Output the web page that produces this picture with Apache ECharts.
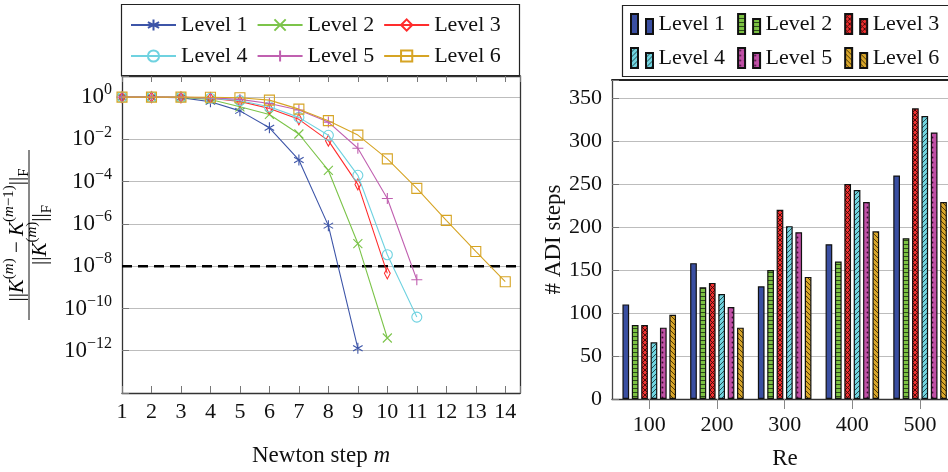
<!DOCTYPE html>
<html><head><meta charset="utf-8">
<script src="https://cdn.jsdelivr.net/npm/echarts@6/dist/echarts.min.js"></script>
<style>html,body{margin:0;padding:0;background:#fff}#c{width:948px;height:472px}</style>
</head><body><div id="c"></div>
<script>
const FONT = '"Liberation Serif", "Times New Roman", serif';

// ---------- Left chart: relative change per Newton step ----------
const levelNames = ['Level 1', 'Level 2', 'Level 3', 'Level 4', 'Level 5', 'Level 6'];
const newtonSteps = [1, 2, 3, 4, 5, 6, 7, 8, 9, 10, 11, 12, 13, 14];
const resLevel1 = [1, 0.99, 0.95, 0.6, 0.224, 0.0355, 1.07e-3, 8.3e-7, 1.3e-12];
const resLevel2 = [1, 0.99, 0.97, 0.78, 0.35, 0.152, 0.018, 3.4e-4, 1.18e-7, 4e-12];
const resLevel3 = [1, 1, 0.98, 0.9, 0.63, 0.29, 0.089, 8.7e-3, 7.4e-5, 4.6e-9];
const resLevel4 = [1, 1, 0.98, 0.88, 0.68, 0.35, 0.11, 0.0156, 2.0e-4, 3.5e-8, 3.9e-11];
const resLevel5 = [1, 1, 0.99, 0.93, 0.78, 0.5, 0.245, 0.066, 3.8e-3, 1.6e-5, 2.3e-9];
const resLevel6 = [1, 1, 1, 0.98, 0.93, 0.72, 0.27, 0.077, 0.016, 1.2e-3, 4.8e-5, 1.48e-6, 5e-8, 1.85e-9];
const tolerance = 1e-8;
const toleranceSpan = [1, 14.5];

// ---------- Right chart: ADI steps per Reynolds number ----------
const reValues = [100, 200, 300, 400, 500];
const adiLevel1 = [110, 158, 131, 180, 260];
const adiLevel2 = [86, 130, 150, 160, 187];
const adiLevel3 = [86, 135, 220, 250, 338];
const adiLevel4 = [66, 122, 201, 243, 329];
const adiLevel5 = [83, 107, 194, 229, 310];
const adiLevel6 = [98, 83, 142, 195, 229];

const resData = [resLevel1, resLevel2, resLevel3, resLevel4, resLevel5, resLevel6];
const adiData = [adiLevel1, adiLevel2, adiLevel3, adiLevel4, adiLevel5, adiLevel6];

const lineColors = ['#3d55a8', '#7cc44a', '#ff2d2d', '#6fd2e0', '#c060b0', '#d6a424'];
const symbols = [
  'path://M10,0L10,20M1.34,5L18.66,15M1.34,15L18.66,5',
  'path://M0,0L10,10M0,10L10,0',
  'path://M4,0L8,5.5L4,11L0,5.5Z',
  'circle',
  'path://M5,0L5,10M0,5L10,5',
  'rect'
];
const symbolSizes = [11, 9, [8, 11], 10, 11, 10];

function pattern(bg, fg, kind, s) {
  const c = document.createElement('canvas');
  c.width = s; c.height = s;
  const g = c.getContext('2d');
  g.fillStyle = bg; g.fillRect(0, 0, s, s);
  g.strokeStyle = fg; g.fillStyle = fg; g.lineWidth = 0.9;
  if (kind === 'h') { g.fillRect(0, 0, s, 1); }
  if (kind === 'ne' || kind === 'x') {
    g.beginPath();
    for (const k of [-s, 0, s]) { g.moveTo(k, s); g.lineTo(k + s, 0); }
    g.stroke();
  }
  if (kind === 'nw' || kind === 'x') {
    g.beginPath();
    for (const k of [-s, 0, s]) { g.moveTo(k, 0); g.lineTo(k + s, s); }
    g.stroke();
  }
  if (kind === 'dots') {
    g.beginPath(); g.arc(s / 2, s / 2, 0.9, 0, Math.PI * 2); g.fill();
  }
  return { image: c, repeat: 'repeat' };
}
const barFills = [
  '#3a4fa2',
  pattern('#7cc242', '#2c4a1a', 'h', 4),
  pattern('#f03030', '#3a0808', 'x', 5),
  pattern('#70d4e0', '#1e3c40', 'ne', 5),
  pattern('#c050a6', '#3a0c30', 'dots', 5),
  pattern('#d9a62a', '#3c2c06', 'nw', 5)
];
const barNames = ['b1', 'b2', 'b3', 'b4', 'b5', 'b6'];

const lineSeries = resData.map((arr, i) => ({
  name: levelNames[i],
  type: 'line',
  xAxisIndex: 0, yAxisIndex: 0,
  data: arr.map((v, j) => [newtonSteps[j], v]),
  symbol: symbols[i],
  symbolSize: symbolSizes[i],
  symbolKeepAspect: true,
  lineStyle: { color: lineColors[i], width: 1.1 },
  itemStyle: { color: 'transparent', borderColor: lineColors[i], borderWidth: 1.1 },
  z: 3 + i
}));
const toleranceSeries = {
  name: 'tol', type: 'line', xAxisIndex: 0, yAxisIndex: 0,
  data: toleranceSpan.map(x => [x, tolerance]),
  symbol: 'none', silent: true, z: 2,
  lineStyle: { color: '#000', type: [10, 6], width: 2.6 }
};

const barSeries = adiData.map((arr, i) => ({
  name: barNames[i],
  type: 'bar',
  xAxisIndex: 2, yAxisIndex: 2,
  data: arr.map((v, j) => [reValues[j], v]),
  barWidth: 6.7,
  barGap: '40%',
  itemStyle: { color: barFills[i], borderColor: '#111', borderWidth: 1.2 }
}));

const supRich = {
  b: { fontSize: 23, lineHeight: 30, fontFamily: FONT, color: '#111' },
  s: { fontSize: 16, lineHeight: 16, verticalAlign: 'top', fontFamily: FONT, color: '#111' }
};

const fracRich = {
  n: { fontSize: 21, lineHeight: 30, fontFamily: FONT, color: '#111' },
  i: { fontSize: 21, lineHeight: 30, fontFamily: FONT, fontStyle: 'italic', color: '#111' },
  s: { fontSize: 15, lineHeight: 15, verticalAlign: 'top', fontFamily: FONT, color: '#111' },
  si: { fontSize: 15, lineHeight: 15, verticalAlign: 'top', fontFamily: FONT, fontStyle: 'italic', color: '#111' },
  u: { fontSize: 15, lineHeight: 15, verticalAlign: 'bottom', fontFamily: FONT, color: '#111' }
};

const option = {
  animation: false,
  textStyle: { fontFamily: FONT },
  graphic: [
    { type: 'rect', shape: { x: 121.5, y: 4.5, width: 398, height: 71 }, style: { fill: 'none', stroke: '#222', lineWidth: 1.2 }, silent: true },
    { type: 'rect', shape: { x: 622.5, y: 5.5, width: 340, height: 71 }, style: { fill: 'none', stroke: '#222', lineWidth: 1.2 }, silent: true },
    {
      type: 'group', x: 29, y: 235, rotation: Math.PI / 2, silent: true,
      children: [
        { type: 'text', x: 0, y: -12, style: { text: '{n|||}{i|K}{s|(}{si|m}{s|)}{n| − }{i|K}{s|(}{si|m}{s|−1)}{n|||}{u|F}', rich: fracRich, align: 'center', verticalAlign: 'middle' } },
        { type: 'line', shape: { x1: -85, y1: 0, x2: 85, y2: 0 }, style: { stroke: '#111', lineWidth: 1 } },
        { type: 'text', x: 0, y: 11, style: { text: '{n|||}{i|K}{s|(}{si|m}{s|)}{n|||}{u|F}', rich: fracRich, align: 'center', verticalAlign: 'middle' } }
      ]
    }
  ],
  grid: [
    { left: 122, top: 76, width: 398, height: 317, outerBoundsMode: 'none', containLabel: false },
    { left: 612, top: 80, width: 346, height: 319, outerBoundsMode: 'none', containLabel: false }
  ],
  legend: [
    {
      data: levelNames, left: 130, top: 14, width: 390, padding: 0,
      itemWidth: 45, itemHeight: 14, itemGap: 9, selectedMode: false,
      textStyle: { fontSize: 22, lineHeight: 21, color: '#111', fontFamily: FONT }
    },
    {
      data: barNames, left: 630, top: 13, width: 318, padding: 0,
      itemWidth: 23, itemHeight: 20, itemGap: 12, selectedMode: false,
      icon: 'path://M0,0H7V20H0Z M15,5H22V20H15Z',
      formatter: n => levelNames[barNames.indexOf(n)],
      textStyle: { fontSize: 22, lineHeight: 21, color: '#111', fontFamily: FONT }
    }
  ],
  xAxis: [
    {
      gridIndex: 0, type: 'value', min: 1, max: 14.5, interval: 1, position: 'bottom',
      axisLine: { onZero: false, lineStyle: { color: '#333', width: 1.3 } },
      axisTick: { inside: true, length: 7, lineStyle: { color: '#777' } },
      axisLabel: { fontSize: 22, color: '#111', margin: 8, fontFamily: FONT, formatter: v => Number.isInteger(v) ? String(v) : '' },
      splitLine: { show: false },
      name: '{r|Newton step }{i|m}', nameLocation: 'middle', nameGap: 51,
      nameTextStyle: { rich: { r: { fontSize: 23, fontFamily: FONT, color: '#111' }, i: { fontSize: 23, fontFamily: FONT, fontStyle: 'italic', color: '#111' } } }
    },
    {
      gridIndex: 0, type: 'value', min: 1, max: 14.5, interval: 1, position: 'top',
      axisLine: { onZero: false, lineStyle: { color: '#333', width: 1.3 } },
      axisTick: { inside: true, length: 6, lineStyle: { color: '#777' } },
      axisLabel: { show: false }, splitLine: { show: false }
    },
    {
      gridIndex: 1, type: 'value', min: 45, max: 556, position: 'bottom',
      axisLine: { onZero: false, lineStyle: { color: '#333', width: 1.3 } },
      axisTick: { customValues: reValues, length: 10, lineStyle: { color: '#888' } },
      axisLabel: { customValues: reValues, fontSize: 22, color: '#111', margin: 15, fontFamily: FONT },
      splitLine: { show: false },
      name: 'Re', nameLocation: 'middle', nameGap: 48,
      nameTextStyle: { fontSize: 23, color: '#111', fontFamily: FONT }
    },
    {
      gridIndex: 1, type: 'value', min: 45, max: 556, position: 'top',
      axisLine: { onZero: false, lineStyle: { color: '#222', width: 1.8 } },
      axisTick: { show: false }, axisLabel: { show: false }, splitLine: { show: false }
    }
  ],
  yAxis: [
    {
      gridIndex: 0, type: 'log', logBase: 10, min: 1e-14, max: 10, interval: 2,
      axisLine: { onZero: false, lineStyle: { color: '#333', width: 1.3 } },
      axisTick: { inside: true, length: 7, lineStyle: { color: '#777' } },
      axisLabel: {
        margin: 10,
        formatter: v => {
          const e = Math.round(Math.log10(v));
          if (e > 0 || e < -12) return '';
          return '{b|10}{s|' + (e < 0 ? '−' + (-e) : String(e)) + '}';
        },
        rich: supRich
      },
      splitLine: { show: true, lineStyle: { color: '#bdbdbd', width: 1.2 } }
    },
    {
      gridIndex: 0, type: 'value', min: 0, max: 1, position: 'right',
      axisLine: { show: true, onZero: false, lineStyle: { color: '#333', width: 1.3 } },
      axisTick: { show: false }, axisLabel: { show: false }, splitLine: { show: false }
    },
    {
      gridIndex: 1, type: 'value', min: 0, max: 371, interval: 50,
      axisLine: { show: true, onZero: false, lineStyle: { color: '#444', width: 1.3 } },
      axisTick: { inside: true, length: 7, lineStyle: { color: '#777' } },
      axisLabel: { fontSize: 22, color: '#111', margin: 10, fontFamily: FONT, formatter: v => (v % 50 === 0 ? String(v) : '') },
      splitLine: { show: true, lineStyle: { color: '#bdbdbd', width: 1.2 } },
      name: '# ADI steps', nameLocation: 'middle', nameGap: 41, nameRotate: 90,
      nameTextStyle: { fontSize: 23, color: '#111', fontFamily: FONT }
    }
  ],
  series: [toleranceSeries].concat(lineSeries, barSeries)
};

const chart = echarts.init(document.getElementById('c'), null, { renderer: 'canvas' });
chart.setOption(option);
</script>
</body></html>
